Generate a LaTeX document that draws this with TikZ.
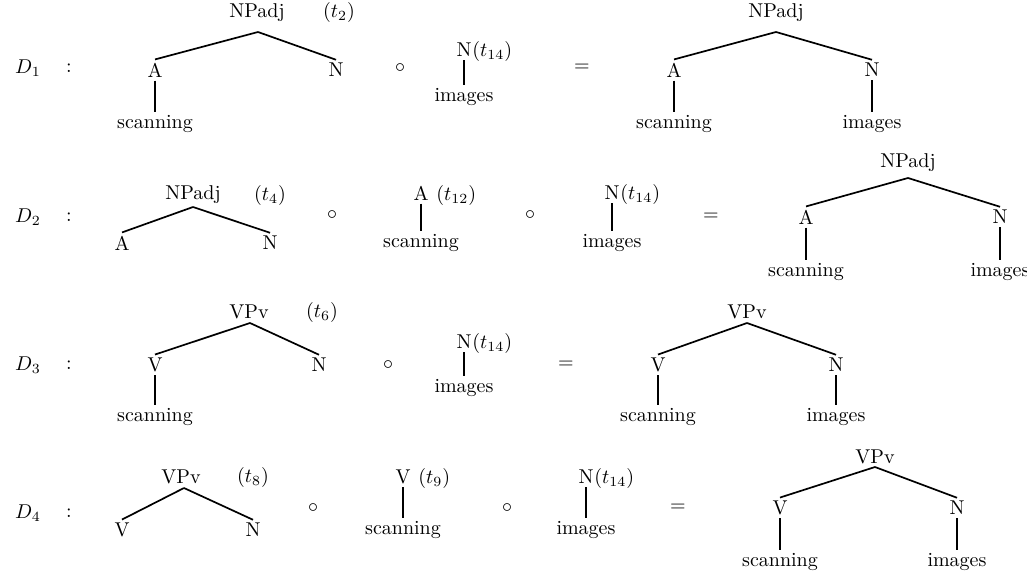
\documentclass[tikz,border=0pt]{standalone}
\begin{document}
\begin{tikzpicture}[x=0.5pt,y=-0.5pt,
  every node/.style={inner sep=1.5pt},
  tedge/.style={line width=0.85pt},
  ledge/.style={line width=0.55pt},
  tlab/.style={anchor=base west,inner sep=0pt}]
\useasboundingbox (0,0) rectangle (1027,573);
% ---------------- D1
\node (d1) at (28,68) {$D_1$};
\node (c1) at (69,68) {$:$};
\node (p1) at (257,13) {NPadj};
\node (p1t) at (339,13) {$(t_2)$};
\coordinate (p1a) at (258,32);
\node (a1) at (155,70) {A};
\node (n1) at (336,70) {N};
\node (s1) at (155,124) {scanning};
\draw[tedge] (p1a) -- (a1.north);
\draw[tedge] (p1a) -- (n1.north);
\draw[ledge] (a1) -- (s1);
\node (o1) at (400,68) {$\circ$};
\node (m1) at (464,50) {N};
\node[tlab] (m1t) at ([xshift=-1.5pt]m1.base east) {$(t_{14})$};
\node (i1) at (464,97) {images};
\draw[ledge] (m1) -- (i1);
\node (e1) at (582,68) {$=$};
\node (r1) at (776,13) {NPadj};
\coordinate (r1a) at (776,32);
\node (ra1) at (674,70) {A};
\node (rn1) at (872,70) {N};
\node (rs1) at (674,124) {scanning};
\node (ri1) at (872,124) {images};
\draw[tedge] (r1a) -- (ra1.north);
\draw[tedge] (r1a) -- (rn1.north);
\draw[ledge] (ra1) -- (rs1);
\draw[ledge] (rn1) -- (ri1);
% ---------------- D2
\node (d2) at (28,217) {$D_2$};
\node (c2) at (69,217) {$:$};
\node (p2) at (193,195) {NPadj};
\node (p2t) at (270,195) {$(t_4)$};
\coordinate (p2a) at (193,207);
\node (a2) at (122,243) {A};
\node (n2) at (270,243) {N};
\draw[tedge] (p2a) -- (a2.north);
\draw[tedge] (p2a) -- (n2.north);
\node (o2) at (332,215) {$\circ$};
\node (m2) at (421,193) {A};
\node[tlab] (m2t) at ([xshift=2pt]m2.base east) {$(t_{12})$};
\node (s2) at (421,243) {scanning};
\draw[ledge] (m2) -- (s2);
\node (o2b) at (530,215) {$\circ$};
\node (m3) at (612,193) {N};
\node[tlab] (m3t) at ([xshift=-1.5pt]m3.base east) {$(t_{14})$};
\node (i2) at (612,243) {images};
\draw[ledge] (m3) -- (i2);
\node (e2) at (711,217) {$=$};
\node (r2) at (908,163) {NPadj};
\coordinate (r2a) at (908,178);
\node (ra2) at (806,217) {A};
\node (rn2) at (1000,217) {N};
\node (rs2) at (806,272) {scanning};
\node (ri2) at (1000,272) {images};
\draw[tedge] (r2a) -- (ra2.north);
\draw[tedge] (r2a) -- (rn2.north);
\draw[ledge] (ra2) -- (rs2);
\draw[ledge] (rn2) -- (ri2);
% ---------------- D3
\node (d3) at (28,365) {$D_3$};
\node (c3) at (69,365) {$:$};
\node (p3) at (249,312) {VPv};
\node (p3t) at (322,312) {$(t_6)$};
\coordinate (p3a) at (250,323);
\node (a3) at (155,365) {V};
\node (n3) at (319,365) {N};
\node (s3) at (155,417) {scanning};
\draw[tedge] (p3a) -- (a3.north);
\draw[tedge] (p3a) -- (n3.north);
\draw[ledge] (a3) -- (s3);
\node (o3) at (388,365) {$\circ$};
\node (m4) at (464,342) {N};
\node[tlab] (m4t) at ([xshift=-1.5pt]m4.base east) {$(t_{14})$};
\node (i3) at (464,388) {images};
\draw[ledge] (m4) -- (i3);
\node (e3) at (566,365) {$=$};
\node (r3) at (747,312) {VPv};
\coordinate (r3a) at (747,323);
\node (ra3) at (658,365) {V};
\node (rn3) at (836,365) {N};
\node (rs3) at (658,417) {scanning};
\node (ri3) at (836,417) {images};
\draw[tedge] (r3a) -- (ra3.north);
\draw[tedge] (r3a) -- (rn3.north);
\draw[ledge] (ra3) -- (rs3);
\draw[ledge] (rn3) -- (ri3);
% ---------------- D4
\node (d4) at (28,513) {$D_4$};
\node (c4) at (69,513) {$:$};
\node (p4) at (181,477) {VPv};
\node (p4t) at (253,477) {$(t_8)$};
\coordinate (p4a) at (184,488);
\node (a4) at (122,530) {V};
\node (n4) at (253,530) {N};
\draw[tedge] (p4a) -- (a4.north);
\draw[tedge] (p4a) -- (n4.north);
\node (o4) at (313,508) {$\circ$};
\node (m5) at (403,477) {V};
\node[tlab] (m5t) at ([xshift=2pt]m5.base east) {$(t_9)$};
\node (s4) at (403,530) {scanning};
\draw[ledge] (m5) -- (s4);
\node (o4b) at (507,508) {$\circ$};
\node (m6) at (586,477) {N};
\node[tlab] (m6t) at ([xshift=-1.5pt]m6.base east) {$(t_{14})$};
\node (i4) at (586,530) {images};
\draw[ledge] (m6) -- (i4);
\node (e4) at (678,508) {$=$};
\node (r4) at (875,457) {VPv};
\coordinate (r4a) at (875,467);
\node (ra4) at (780,508) {V};
\node (rn4) at (957,508) {N};
\node (rs4) at (780,562) {scanning};
\node (ri4) at (957,562) {images};
\draw[tedge] (r4a) -- (ra4.north);
\draw[tedge] (r4a) -- (rn4.north);
\draw[ledge] (ra4) -- (rs4);
\draw[ledge] (rn4) -- (ri4);
\end{tikzpicture}
\end{document}
